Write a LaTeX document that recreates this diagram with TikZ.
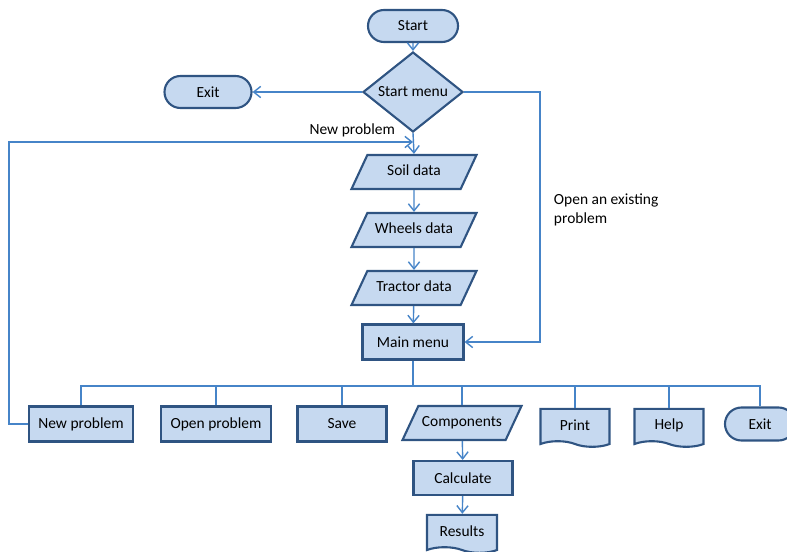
\documentclass[tikz,border=0pt]{standalone}
\usepackage{fontspec}
\setmainfont{Carlito}
\usepackage{tikz}
\usetikzlibrary{arrows.meta,shapes.geometric,shapes.misc,shapes.symbols}
\definecolor{boxfill}{RGB}{198,217,240}
\definecolor{boxedge}{RGB}{47,84,130}
\definecolor{flowline}{RGB}{70,132,200}

\begin{document}
\begin{tikzpicture}[
    x=0.025cm,y=-0.025cm,
    base/.style={draw=boxedge,fill=boxfill,line width=1.5pt,inner sep=0pt,align=center,font=\fontsize{11}{13}\selectfont},
    term/.style={base,rounded rectangle,minimum height=0.8cm},
    proc/.style={base,rectangle,minimum height=0.875cm},
    decide/.style={base,diamond,minimum width=2.5cm,minimum height=1.75cm},
    inout/.style={base,trapezium,trapezium left angle=65,trapezium right angle=115,trapezium stretches body=true,text height=7.5pt,text depth=2.5pt,inner ysep=0.25cm},
    doc/.style={base,tape,tape bend top=none,tape bend bottom=out and in,tape bend height=4pt,minimum height=0.95cm},
    link/.style={flowline,line width=1pt},
    >={Straight Barb[length=5pt,width=8pt]}
]
\useasboundingbox (0,0) rectangle (787,551);

\node[term,minimum width=2.25cm] (start) at (413,26) {Start};
\node[decide] (menu) at (413,92) {Start menu};
\node[term,minimum width=2.175cm] (exit1) at (208,92) {Exit};
\node[inout,minimum width=3.125cm] (soil) at (414,172) {Soil data};
\node[inout,minimum width=3.125cm] (wheels) at (414,230) {Wheels data};
\node[inout,minimum width=3.125cm] (tractor) at (414,288) {Tractor data};
\node[proc,minimum width=2.525cm] (main) at (413,342) {Main menu};

\node[proc,minimum width=2.6cm] (newp) at (81,424) {New problem};
\node[proc,minimum width=2.75cm] (openp) at (216,424) {Open problem};
\node[proc,minimum width=2.225cm] (save) at (342,424) {Save};
\node[inout,minimum width=2.975cm] (comp) at (462,423) {Components};
\node[doc,minimum width=1.725cm] (print) at (575,425) {Print};
\node[doc,minimum width=1.725cm] (help) at (669,425) {Help};
\node[term,minimum width=1.75cm,minimum height=0.825cm] (exit2) at (760,424) {Exit};
\node[proc,minimum width=2.475cm,minimum height=0.85cm] (calc) at (463,478) {Calculate};
\node[doc,minimum width=1.75cm] (results) at (462,531) {Results};

\coordinate (turn) at (540,92);
\coordinate (loop) at (9,142);
\coordinate (np) at (413,142);
\coordinate (bus) at (413,386);

\draw[link,->] (start) -- (menu);
\draw[link,->] (menu.west) -- (exit1.east);
\draw[link,->] (menu.east) -- (turn) |- (main.east);
\node[anchor=west,align=left,font=\fontsize{11}{13}\selectfont] (openlbl) at (549,210) {Open an existing\\problem};
\draw[link,->] (newp.west) -| (loop) -- (np);
\node[anchor=south east,inner sep=2pt,font=\fontsize{11}{13}\selectfont] (newlbl) at (398,140) {New problem};
\draw[link,->] (menu.south) -- (soil.north);
\draw[link,->] (soil) -- (wheels);
\draw[link,->] (wheels) -- (tractor);
\draw[link,->] (tractor) -- (main);

\draw[link] (main.south) -- (bus);
\draw[link] (newp.north) |- (bus) -| (exit2.north);
\foreach \n in {openp,save,comp,print,help}
    \draw[link] (\n.north) -- (\n.north |- bus);

\draw[link,->] (comp) -- (calc);
\draw[link,->] (calc) -- (results);
\end{tikzpicture}
\end{document}
